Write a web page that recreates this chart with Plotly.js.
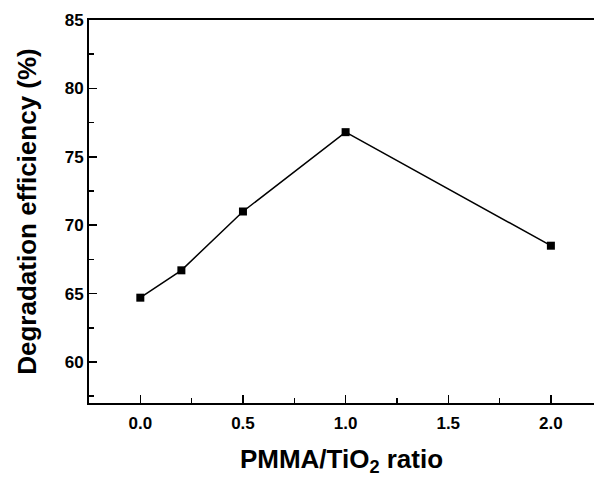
<!DOCTYPE html>
<html>
<head>
<meta charset="utf-8">
<script src="https://cdn.plot.ly/plotly-3.0.1.min.js"></script>
<style>html,body{margin:0;padding:0;background:#fff;}#chart{width:594px;height:477px;}</style>
</head>
<body>
<div id="chart"></div>
<script>
const ratios = [0.0, 0.2, 0.5, 1.0, 2.0];
const efficiency = [64.7, 66.7, 71.0, 76.8, 68.5];
const xTitle = "PMMA/TiO<sub>2</sub> ratio";
const yTitle = "Degradation efficiency (%)";

const fontFam = "Arial, 'Liberation Sans', sans-serif";

Plotly.newPlot('chart', [{
  x: ratios,
  y: efficiency,
  type: 'scatter',
  mode: 'lines+markers',
  line: {color: '#000', width: 1.5},
  marker: {symbol: 'square', size: 8, color: '#000'},
  showlegend: false
}], {
  width: 594, height: 477,
  margin: {l: 89, r: 0, t: 20, b: 74},
  paper_bgcolor: '#fff', plot_bgcolor: '#fff',
  font: {family: fontFam, color: '#000'},
  xaxis: {
    range: [-0.25, 2.21],
    tick0: 0, dtick: 0.5, tickformat: '.1f',
    ticks: 'inside', ticklen: 8, tickwidth: 1.5, tickcolor: '#000',
    ticklabelstandoff: 4,
    minor: {ticks: 'inside', dtick: 0.25, ticklen: 5, tickwidth: 1.5, tickcolor: '#000'},
    showline: true, linewidth: 2, linecolor: '#000', mirror: true,
    showgrid: false, zeroline: false,
    tickfont: {family: fontFam, size: 17, weight: 'bold', color: '#000'},
    title: {text: xTitle, font: {family: fontFam, size: 26, weight: 'bold', color: '#000'}, standoff: 17}
  },
  yaxis: {
    range: [57, 85],
    tick0: 60, dtick: 5,
    ticks: 'inside', ticklen: 8, tickwidth: 1.5, tickcolor: '#000',
    minor: {ticks: 'inside', dtick: 2.5, ticklen: 5, tickwidth: 1.5, tickcolor: '#000'},
    showline: true, linewidth: 2, linecolor: '#000', mirror: false,
    showgrid: false, zeroline: false,
    tickfont: {family: fontFam, size: 17, weight: 'bold', color: '#000'},
    title: {text: yTitle, font: {family: fontFam, size: 26, weight: 'bold', color: '#000'}, standoff: 21}
  }
}, {staticPlot: true});
</script>
</body>
</html>
